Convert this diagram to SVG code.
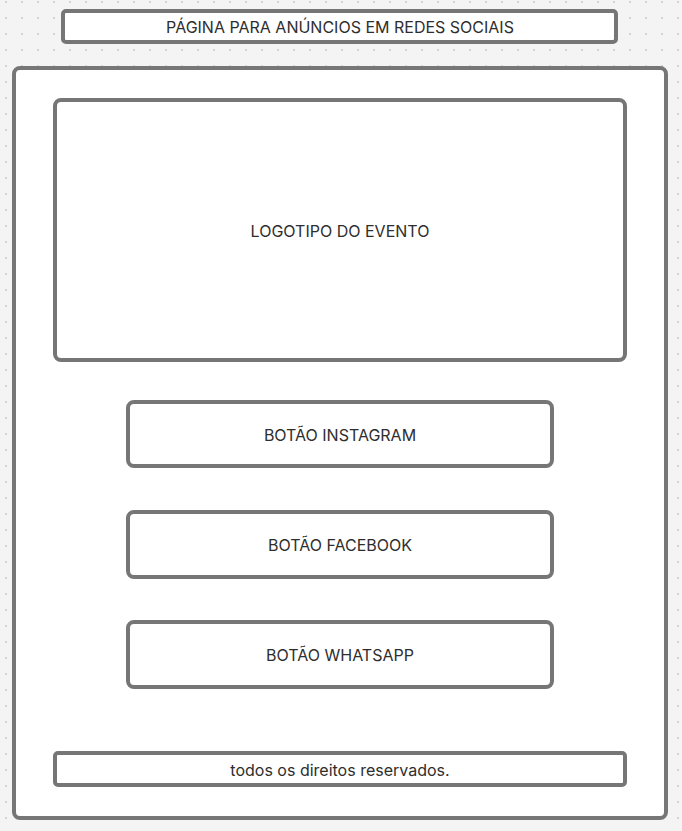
<svg xmlns="http://www.w3.org/2000/svg" width="682" height="831" viewBox="0 0 682 831">
  <defs>
    <pattern id="dots" x="0" y="0" width="16" height="16" patternUnits="userSpaceOnUse">
      <circle cx="6" cy="2" r="0.9" fill="#c4c4c4"/>
    </pattern>
    <style>
      .box { fill: #ffffff; stroke: #767676; stroke-width: 4; }
      .lbl { font-family: Inter, "Liberation Sans", sans-serif; font-size: 16px; fill: #2e2e2e; text-anchor: middle; }
    </style>
  </defs>
  <rect x="0" y="0" width="682" height="831" fill="#f4f4f4"/>
  <rect x="0" y="0" width="682" height="831" fill="url(#dots)"/>

  <g id="title">
    <rect class="box" x="63" y="11" width="553" height="31" rx="3"/>
    <text class="lbl" x="340" y="32.8">PÁGINA PARA ANÚNCIOS EM REDES SOCIAIS</text>
  </g>

  <g id="frame">
    <rect class="box" x="14" y="68" width="652" height="750" rx="6"/>
  </g>

  <g id="logo">
    <rect class="box" x="55" y="100" width="570" height="260" rx="6"/>
    <text class="lbl" x="340" y="236.8">LOGOTIPO DO EVENTO</text>
  </g>

  <g id="btn-instagram">
    <rect class="box" x="128" y="402" width="424" height="64" rx="6"/>
    <text class="lbl" x="340" y="440.8">BOTÃO INSTAGRAM</text>
  </g>

  <g id="btn-facebook">
    <rect class="box" x="128" y="512" width="424" height="65" rx="6"/>
    <text class="lbl" x="340" y="550.8">BOTÃO FACEBOOK</text>
  </g>

  <g id="btn-whatsapp">
    <rect class="box" x="128" y="622" width="424" height="65" rx="6"/>
    <text class="lbl" x="340" y="660.8">BOTÃO WHATSAPP</text>
  </g>

  <g id="footer">
    <rect class="box" x="55" y="753" width="570" height="32" rx="3"/>
    <text class="lbl" x="340" y="775.8">todos os direitos reservados.</text>
  </g>

  <g id="connectors"></g>
</svg>
